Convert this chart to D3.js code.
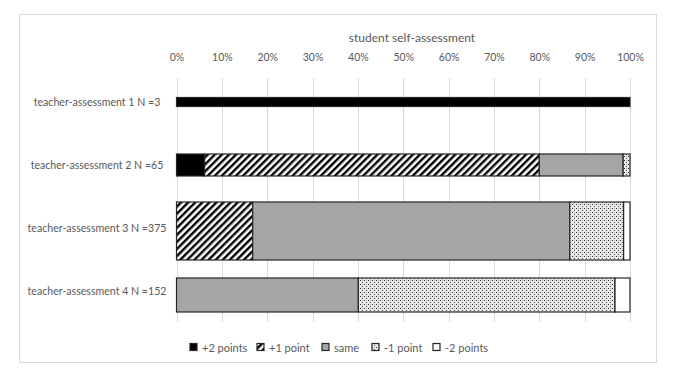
<!DOCTYPE html>
<html>
<head>
<meta charset="utf-8">
<script src="https://cdn.jsdelivr.net/npm/d3@7"></script>
<style>
  body { margin: 0; background: #fff; }
  text { font-family: Lato, "Open Sans", sans-serif; fill: #595959; }
</style>
</head>
<body>
<div id="canvas"></div>
<script>
"use strict"

/* Data (percent of each row) */
let categories = ["teacher-assessment 1 N =3", "teacher-assessment 2 N =65",
    "teacher-assessment 3 N =375", "teacher-assessment 4 N =152"];
let seriesNames = ["+2 points", "+1 point", "same", "-1 point", "-2 points"];
let plus2 = [100, 6.2, 0, 0];
let plus1 = [0, 73.8, 16.8, 0];
let same = [0, 18.5, 69.9, 40.1];
let minus1 = [0, 1.5, 11.9, 56.6];
let minus2 = [0, 0, 1.4, 3.3];
let tickValues = [0, 10, 20, 30, 40, 50, 60, 70, 80, 90, 100];

/* Drawing config */
let svgWidth = 674;
let svgHeight = 377;
let barThickness = [9, 22, 58, 34];
let barShift = [0, 0, 3, 4];

let svg = d3.select("#canvas")
    .append("svg")
    .attr("width", svgWidth)
    .attr("height", svgHeight);

/* patterns */
let defs = svg.append("defs");

let hatch = defs.append("pattern")
    .attr("id", "hatch")
    .attr("patternUnits", "userSpaceOnUse")
    .attr("width", 5)
    .attr("height", 5)
    .attr("patternTransform", "rotate(45)");
hatch.append("rect").attr("width", 5).attr("height", 5).attr("fill", "#fff");
hatch.append("rect").attr("width", 2.4).attr("height", 5).attr("fill", "#000");

let dots = defs.append("pattern")
    .attr("id", "dots")
    .attr("patternUnits", "userSpaceOnUse")
    .attr("width", 4)
    .attr("height", 4);
dots.append("rect").attr("width", 4).attr("height", 4).attr("fill", "#e6e6e6");
dots.append("rect").attr("width", 1).attr("height", 1).attr("fill", "#333");
dots.append("rect").attr("x", 2).attr("y", 2).attr("width", 1).attr("height", 1).attr("fill", "#555");
dots.append("rect").attr("x", 2).attr("y", 0).attr("width", 1).attr("height", 1).attr("fill", "#bbb");
dots.append("rect").attr("x", 0).attr("y", 2).attr("width", 1).attr("height", 1).attr("fill", "#fff");

let fills = ["#000", "url(#hatch)", "#a5a5a5", "url(#dots)", "#fff"];

/* chart frame */
svg.append("rect")
    .attr("x", 19.5)
    .attr("y", 14.5)
    .attr("width", 637)
    .attr("height", 348)
    .attr("fill", "#fff")
    .attr("stroke", "#d9d9d9");

/* scales */
let xScale = d3.scaleLinear()
    .domain([0, 100])
    .range([176.5, 630]);

let yScale = d3.scalePoint()
    .domain(categories)
    .range([102, 291]);

/* gridlines */
svg.selectAll(".grid")
    .data(tickValues)
    .join("line")
    .attr("x1", d => Math.round(xScale(d)) + 0.5)
    .attr("x2", d => Math.round(xScale(d)) + 0.5)
    .attr("y1", 78)
    .attr("y2", 322)
    .attr("stroke", "#d9d9d9");

/* top axis labels */
let xAxis = d3.axisTop(xScale)
    .tickValues(tickValues)
    .tickFormat(d => d + "%")
    .tickSize(0)
    .tickPadding(0);

let axisG = svg.append("g")
    .attr("transform", "translate(0,61)")
    .call(xAxis);
axisG.select(".domain").remove();
axisG.selectAll("text")
    .style("font-family", "Lato, 'Open Sans', sans-serif")
    .style("font-size", "10.5px")
    .attr("fill", "#595959");

svg.append("text")
    .attr("x", 412)
    .attr("y", 42)
    .attr("text-anchor", "middle")
    .style("font-size", "12px")
    .text("student self-assessment");

/* stacked bars */
let table = categories.map((c, i) => ({
    cat: c,
    "+2 points": plus2[i],
    "+1 point": plus1[i],
    "same": same[i],
    "-1 point": minus1[i],
    "-2 points": minus2[i]
}));

let stack = d3.stack().keys(seriesNames);
let layers = stack(table);

layers.forEach((layer, k) => {
    svg.append("g")
        .selectAll("rect")
        .data(layer.filter(d => d[1] - d[0] > 0))
        .join("rect")
        .attr("x", d => xScale(d[0]))
        .attr("width", d => xScale(d[1]) - xScale(d[0]))
        .attr("y", d => {
            let i = categories.indexOf(d.data.cat);
            return yScale(d.data.cat) + barShift[i] - barThickness[i] / 2;
        })
        .attr("height", d => barThickness[categories.indexOf(d.data.cat)])
        .attr("fill", fills[k])
        .attr("stroke", "#262626")
        .attr("stroke-width", 1.2);
});

/* category labels */
svg.selectAll(".cat")
    .data(categories)
    .join("text")
    .attr("x", 97)
    .attr("y", d => yScale(d))
    .attr("text-anchor", "middle")
    .attr("dominant-baseline", "central")
    .style("font-size", "10.6px")
    .text(d => d);

/* legend */
let legendX = [190, 257, 322, 372, 433];
let legend = svg.selectAll(".legend")
    .data(seriesNames)
    .join("g")
    .attr("transform", (d, i) => "translate(" + legendX[i] + ",347)");

legend.append("rect")
    .attr("x", 0)
    .attr("y", -3.5)
    .attr("width", 7)
    .attr("height", 7)
    .attr("fill", (d, i) => fills[i])
    .attr("stroke", "#262626")
    .attr("stroke-width", 1.2);

legend.append("text")
    .attr("x", 12)
    .attr("y", 0)
    .attr("dominant-baseline", "central")
    .style("font-size", "11px")
    .text(d => d);
</script>
</body>
</html>
